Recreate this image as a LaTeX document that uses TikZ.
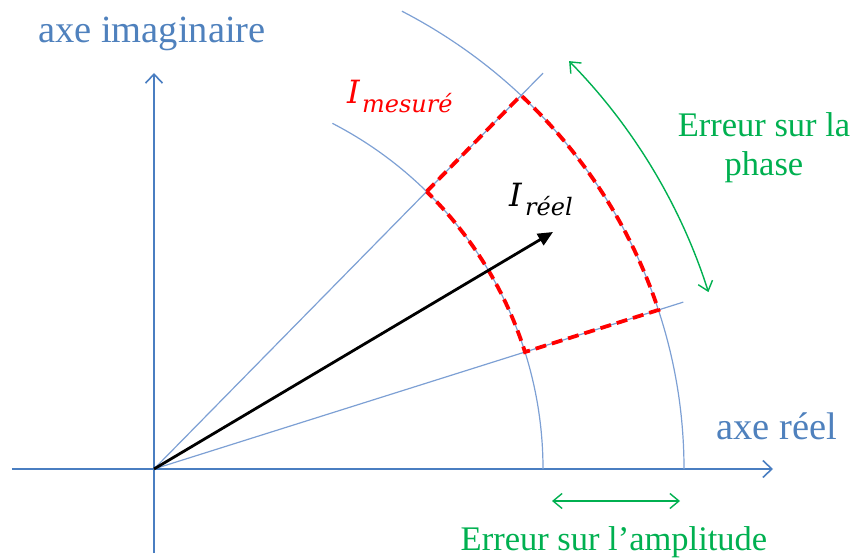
\documentclass[tikz,border=0pt]{standalone}
\usepackage{fontspec}
\setmainfont{Liberation Serif}
\newfontfamily\dvserif{DejaVu Serif}
\usetikzlibrary{arrows.meta}
\definecolor{axblue}{RGB}{74,126,193}
\definecolor{lnblue}{RGB}{125,160,212}
\definecolor{grn}{RGB}{0,176,80}
\definecolor{txtblue}{RGB}{79,129,189}
\definecolor{redd}{RGB}{255,0,0}
\begin{document}
\begin{tikzpicture}[x=1pt,y=1pt,
  axisline/.style={draw=axblue,line width=1.6pt,-{Straight Barb[length=9pt,width=17pt,line width=1.6pt]}},
  thinline/.style={draw=lnblue,line width=1.2pt},
  reddash/.style={draw=redd,line width=3.8pt,dash pattern=on 11pt off 6pt},
  vec/.style={draw=black,line width=2.8pt,-{Triangle[length=15pt,width=13pt]}},
  garrow/.style={draw=grn,line width=1.4pt,{Straight Barb[length=9pt,width=15pt,line width=1.4pt]}-{Straight Barb[length=9pt,width=15pt,line width=1.4pt]}},
  axlabel/.style={text=txtblue,inner sep=0pt,font=\fontsize{38.5}{46}\selectfont},
  glabel/.style={text=grn,inner sep=0pt,font=\fontsize{34.5}{39}\selectfont},
  bigI/.style={inner sep=0pt,anchor=base west,font=\dvserif\itshape\fontsize{32}{38}\selectfont},
  subI/.style={inner sep=0pt,anchor=base west,font=\dvserif\itshape\fontsize{24}{28}\selectfont}
]
\useasboundingbox (-154,-88) rectangle (699,469);
\coordinate (O) at (0,0);
\coordinate (ytop) at (0,396);
\coordinate (ybot) at (0,-84);
\coordinate (xleft) at (-142,0);
\coordinate (xright) at (619,0);
\coordinate (U) at (45.5:555);
\coordinate (L) at (17.5:555);
\coordinate (Ir) at (399,237);
\coordinate (ampA) at (398,-32);
\coordinate (ampB) at (526,-32);
% axes
\draw[axisline] (ybot) -- (ytop);
\draw[axisline] (xleft) -- (xright);
% arcs
\draw[thinline] (389,0) arc[start angle=0,end angle=62.7,radius=389];
\draw[thinline] (530,0) arc[start angle=0,end angle=62.1,x radius=530,y radius=518];
% rays
\draw[thinline] (O) -- (U);
\draw[thinline] (O) -- (L);
% measured region
\draw[reddash] (45.5:389) -- (46.17:530 and 518)
  arc[start angle=46.17,end angle=17.88,x radius=530,y radius=518]
  -- (17.5:389) arc[start angle=17.5,end angle=45.5,radius=389] -- cycle;
% real vector
\draw[vec] (O) -- (Ir);
% error arrows
\draw[garrow] (44.5:582) arc[start angle=44.5,end angle=17.7,radius=582];
\draw[garrow] (ampA) -- (ampB);
% labels
\node[axlabel,anchor=base] (lim) at (-2,426) {axe imaginaire};
\node[axlabel,anchor=base] (lre) at (623,30) {axe réel};
\node[glabel,anchor=base] (ph1) at (610,332) {Erreur sur la};
\node[glabel,anchor=base] (ph2) at (610,293) {phase};
\node[glabel,anchor=base] (amp) at (460,-81) {Erreur sur l’amplitude};
\node[bigI,text=redd] (Im) at (193,365) {I};
\node[subI,text=redd] (Ims) at (208,356) {mesuré};
\node[bigI] (Ire) at (355,262) {I};
\node[subI] (Ires) at (371,253) {réel};
\end{tikzpicture}
\end{document}
